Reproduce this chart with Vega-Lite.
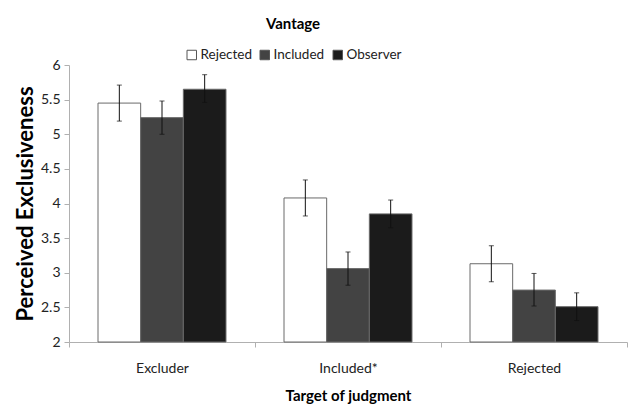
{
  "$schema": "https://vega.github.io/schema/vega-lite/v6.json",
  "width": 558,
  "height": 277,
  "autosize": {"type": "none"},
  "padding": {"left": 69, "top": 65, "right": 10, "bottom": 64},
  "background": "white",
  "config": {
    "view": {"stroke": null},
    "font": "Lato",
    "axis": {"grid": false, "domainColor": "#b0b0b0", "tickColor": "#b0b0b0", "labelColor": "#222", "titleColor": "#000"}
  },
  "data": {
    "values": [
      {"target": "Excluder", "vantage": "Rejected", "mean": 5.45, "lo": 5.19, "hi": 5.71},
      {"target": "Excluder", "vantage": "Included", "mean": 5.24, "lo": 5.0, "hi": 5.48},
      {"target": "Excluder", "vantage": "Observer", "mean": 5.65, "lo": 5.46, "hi": 5.86},
      {"target": "Included*", "vantage": "Rejected", "mean": 4.08, "lo": 3.82, "hi": 4.34},
      {"target": "Included*", "vantage": "Included", "mean": 3.06, "lo": 2.82, "hi": 3.3},
      {"target": "Included*", "vantage": "Observer", "mean": 3.85, "lo": 3.65, "hi": 4.05},
      {"target": "Rejected", "vantage": "Rejected", "mean": 3.13, "lo": 2.87, "hi": 3.39},
      {"target": "Rejected", "vantage": "Included", "mean": 2.75, "lo": 2.52, "hi": 2.99},
      {"target": "Rejected", "vantage": "Observer", "mean": 2.51, "lo": 2.31, "hi": 2.71}
    ]
  },
  "encoding": {
    "x": {
      "field": "target", "type": "nominal", "sort": ["Excluder", "Included*", "Rejected"],
      "scale": {"paddingInner": 0, "paddingOuter": 0},
      "axis": {"title": "Target of judgment", "labelAngle": 0, "labelFontSize": 14, "labelPadding": 14, "titleFontSize": 15, "titleFontWeight": "bold", "titlePadding": 13, "tickBand": "extent", "tickSize": 5}
    },
    "xOffset": {"field": "vantage", "type": "nominal", "sort": ["Rejected", "Included", "Observer"], "scale": {"paddingInner": 0, "paddingOuter": 0.68}}
  },
  "layer": [
    {
      "mark": {"type": "bar", "stroke": "#6a6a6a", "strokeWidth": 1},
      "encoding": {
        "y": {
          "field": "mean", "type": "quantitative",
          "scale": {"domain": [2, 6], "zero": false, "nice": false},
          "axis": {"title": "Perceived Exclusiveness", "values": [2, 2.5, 3, 3.5, 4, 4.5, 5, 5.5, 6], "format": "~g", "labelOverlap": false, "labelFontSize": 14, "labelPadding": 4, "tickSize": 5, "titleFontSize": 22, "titleFontWeight": "bold", "titlePadding": 3}
        },
        "y2": {"datum": 2},
        "fill": {
          "field": "vantage", "type": "nominal", "sort": ["Rejected", "Included", "Observer"],
          "scale": {"domain": ["Rejected", "Included", "Observer"], "range": ["#ffffff", "#434343", "#1b1b1b"]},
          "legend": {
            "title": "Vantage", "orient": "none", "direction": "horizontal",
            "legendX": 116, "legendY": -48,
            "titleAnchor": "middle", "titleFontSize": 15, "titleFontWeight": "bold", "titlePadding": 16,
            "labelFontSize": 13.5, "labelColor": "#222", "symbolType": "square", "symbolSize": 90,
            "symbolStrokeColor": "#555", "symbolStrokeWidth": 1, "columnPadding": 6, "labelOffset": 2
          }
        }
      }
    },
    {
      "mark": {"type": "rule", "color": "#111", "strokeWidth": 1},
      "encoding": {
        "y": {"field": "lo", "type": "quantitative", "scale": {"domain": [2, 6], "zero": false, "nice": false},
          "axis": {"title": "Perceived Exclusiveness", "values": [2, 2.5, 3, 3.5, 4, 4.5, 5, 5.5, 6], "format": "~g", "labelOverlap": false, "labelFontSize": 14, "labelPadding": 4, "tickSize": 5, "titleFontSize": 22, "titleFontWeight": "bold", "titlePadding": 3}},
        "y2": {"field": "hi"}
      }
    },
    {
      "mark": {"type": "tick", "color": "#111", "size": 5, "thickness": 1},
      "encoding": {"y": {"field": "lo", "type": "quantitative", "scale": {"domain": [2, 6], "zero": false, "nice": false},
          "axis": {"title": "Perceived Exclusiveness", "values": [2, 2.5, 3, 3.5, 4, 4.5, 5, 5.5, 6], "format": "~g", "labelOverlap": false, "labelFontSize": 14, "labelPadding": 4, "tickSize": 5, "titleFontSize": 22, "titleFontWeight": "bold", "titlePadding": 3}}}
    },
    {
      "mark": {"type": "tick", "color": "#111", "size": 5, "thickness": 1},
      "encoding": {"y": {"field": "hi", "type": "quantitative", "scale": {"domain": [2, 6], "zero": false, "nice": false},
          "axis": {"title": "Perceived Exclusiveness", "values": [2, 2.5, 3, 3.5, 4, 4.5, 5, 5.5, 6], "format": "~g", "labelOverlap": false, "labelFontSize": 14, "labelPadding": 4, "tickSize": 5, "titleFontSize": 22, "titleFontWeight": "bold", "titlePadding": 3}}}
    }
  ]
}
